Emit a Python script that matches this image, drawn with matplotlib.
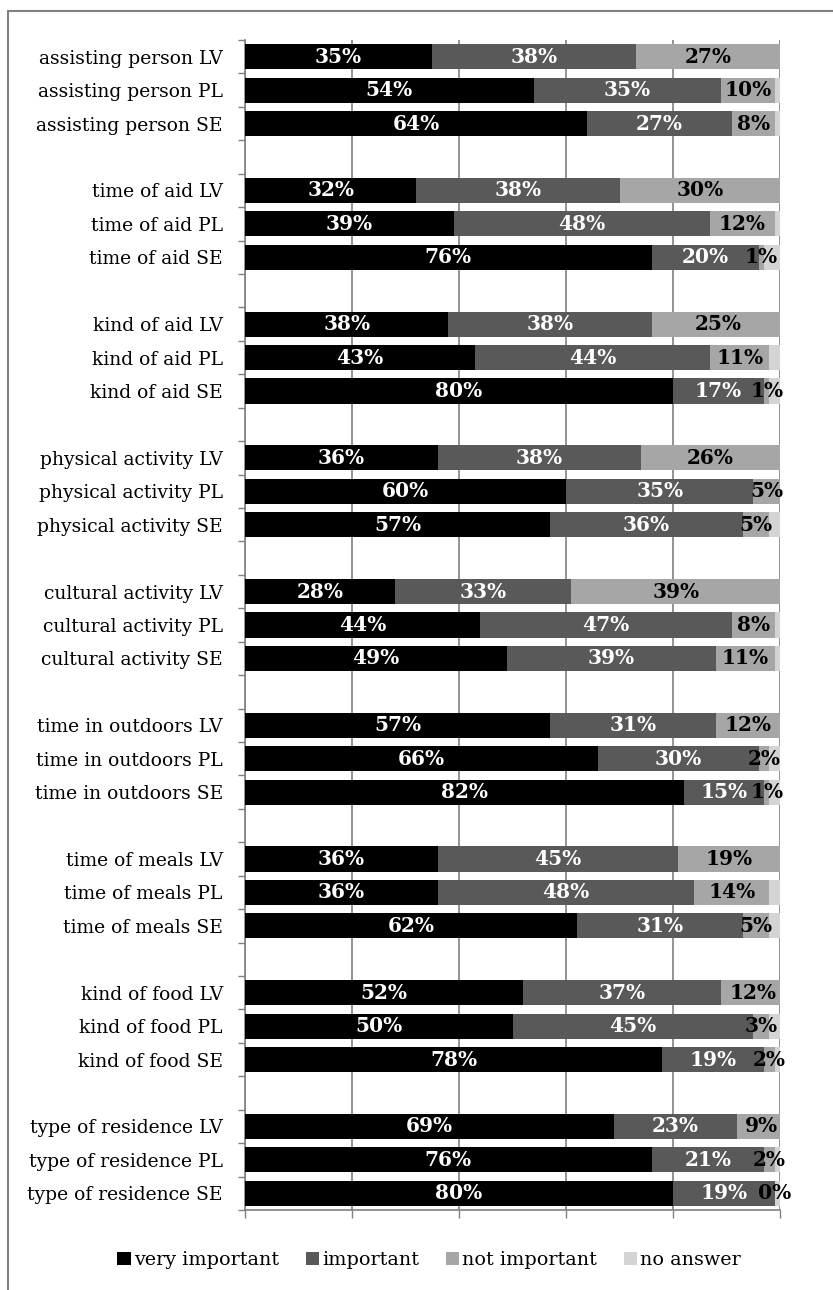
import numpy as np
import matplotlib.pyplot as plt
from matplotlib.patches import Rectangle, Patch

# survey answers (percent), three countries per topic
topics = ["assisting person", "time of aid", "kind of aid", "physical activity",
          "cultural activity", "time in outdoors", "time of meals", "kind of food",
          "type of residence"]
countries = ["LV", "PL", "SE"]

very_important = [35, 54, 64, 32, 39, 76, 38, 43, 80, 36, 60, 57, 28, 44, 49,
                  57, 66, 82, 36, 36, 62, 52, 50, 78, 69, 76, 80]
important = [38, 35, 27, 38, 48, 20, 38, 44, 17, 38, 35, 36, 33, 47, 39,
             31, 30, 15, 45, 48, 31, 37, 45, 19, 23, 21, 19]
not_important = [27, 10, 8, 30, 12, 1, 25, 11, 1, 26, 5, 5, 39, 8, 11,
                 12, 2, 1, 19, 14, 5, 12, 3, 2, 9, 2, 0]
no_answer = [0, 1, 1, 0, 1, 3, 0, 2, 2, 0, 0, 2, 0, 1, 1,
             0, 2, 2, 0, 2, 2, 0, 2, 1, 0, 1, 1]

series_names = ["very important", "important", "not important", "no answer"]
colors = ["#000000", "#595959", "#a6a6a6", "#d4d4d4"]
label_colors = ["white", "white", "black", None]

plt.rcParams['font.family'] = ['DejaVu Serif']

fig = plt.figure(figsize=(8.33, 12.9), dpi=100)
ax = fig.add_axes([245 / 833, 1 - 1210 / 1290, 535 / 833, 1170 / 1290])

# one empty slot between topic groups
labels = []
ypos = []
for g, topic in enumerate(topics):
    for c, country in enumerate(countries):
        labels.append(f"{topic} {country}")
        ypos.append(g * 4 + c)
ypos = np.array(ypos)

data = [very_important, important, not_important, no_answer]
left = np.zeros(len(labels))
for k, vals in enumerate(data):
    vals = np.array(vals, dtype=float)
    ax.barh(ypos, vals, left=left, height=0.75, color=colors[k], zorder=3)
    if label_colors[k] is not None:
        for y, l, v in zip(ypos, left, vals):
            ax.text(l + v / 2, y, f"{int(v)}%", ha='center', va='center',
                    color=label_colors[k], fontsize=14.5, fontweight='bold',
                    zorder=4)
    left += vals

ax.set_xlim(0, 100)
ax.set_ylim(34.5, -0.5)

ax.set_yticks(ypos)
ax.set_yticklabels(labels, fontsize=13.5)
ax.tick_params(axis='y', which='major', length=0, pad=16)
ax.set_yticks(np.arange(-0.5, 35, 1), minor=True)
ax.tick_params(axis='y', which='minor', length=5, width=1, color='#808080')

ax.set_xticks(np.arange(0, 101, 20))
ax.set_xticklabels([])
ax.tick_params(axis='x', length=6, width=1, color='#808080')
ax.xaxis.grid(True, color='#808080', linewidth=1.2, zorder=0)
ax.set_axisbelow(True)

for side in ['top', 'right']:
    ax.spines[side].set_visible(False)
for side in ['left', 'bottom']:
    ax.spines[side].set_color('#808080')
    ax.spines[side].set_linewidth(1.2)

handles = [Patch(facecolor=c, edgecolor='none') for c in colors]
fig.legend(handles, series_names, loc='center', bbox_to_anchor=(429 / 833, 1 - 1260 / 1290),
           ncol=4, frameon=False, fontsize=13.8, handlelength=0.7, handleheight=0.7,
           handletextpad=0.15, columnspacing=1.4)

# outer frame, open to the right and bottom
fig.patches.append(Rectangle((8 / 833, -0.1), 1.2, 1.1 - 11 / 1290, transform=fig.transFigure,
                             fill=False, edgecolor='#808080', linewidth=1.5))

fig.savefig("out.png", dpi=100)
